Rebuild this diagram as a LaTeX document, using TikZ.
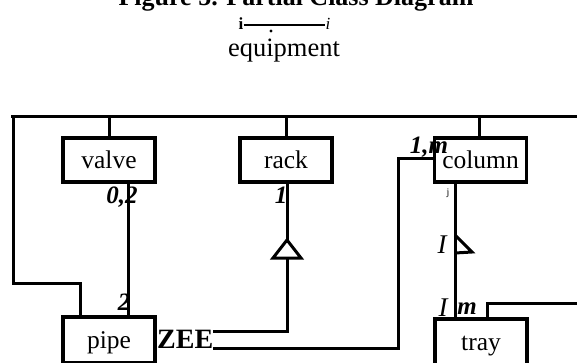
\documentclass[tikz,border=0pt]{standalone}
\usepackage{fontspec}
\setmainfont{Liberation Serif}
\usetikzlibrary{calc}
\begin{document}
\begin{tikzpicture}[x=1pt,y=-1pt,
  conn/.style={line width=3pt},
  cls/.style={draw,line width=3.2pt,minimum width=92pt,minimum height=44pt,inner sep=0pt,
    text height=18pt,text depth=2pt,font=\fontsize{25.5}{30}\selectfont},
  mult/.style={inner sep=0pt,font=\fontsize{25}{30}\selectfont\bfseries\itshape},
  lbl/.style={inner sep=0pt,font=\fontsize{25}{30}\selectfont}]
\useasboundingbox (0,0) rectangle (577,362);
\clip (0,0) rectangle (577,362);
% title and header
\node[anchor=base,inner sep=0pt,font=\fontsize{26}{30}\selectfont\bfseries] (title) at (296,5) {Figure 5. Partial Class Diagram};
\node[anchor=base,inner sep=0pt,font=\fontsize{17}{18}\selectfont\bfseries] (hi1) at (241,29) {i};
\node[anchor=base,inner sep=0pt,font=\fontsize{17}{18}\selectfont\itshape] (hi2) at (328,29) {i};
\draw[line width=2pt] (hi1.east |- 0,25) -- (hi2.west |- 0,25);
\fill (271,31) circle (1.6pt);
\node[lbl,font=\fontsize{26.5}{30}\selectfont] (equip) at (284,51) {equipment};
% classes
\node[cls] (valve) at (109,160) {valve};
\node[cls] (rack) at (286,160) {rack};
\node[cls] (column) at (480.5,160) {column};
\node[cls,minimum height=46pt] (pipe) at (109,340) {pipe};
\node[cls,minimum height=46pt] (tray) at (481,342) {tray};
% bus
\coordinate (busL) at (11,116);
\coordinate (busR) at (577,116);
\draw[conn] (busL) -- (busR);
\draw[conn] (valve.north) -- (valve.north |- busL);
\draw[conn] (rack.north) -- (rack.north |- busL);
\draw[conn] ([xshift=-1.5pt]column.north) -- ([xshift=-1.5pt]column.north |- busL);
\coordinate (lbend) at (13,283);
\draw[conn] ([xshift=-29pt]pipe.north) |- (lbend) -- (lbend |- busL);
% valve - pipe
\draw[conn] ([xshift=19pt]valve.south) -- ([xshift=19pt]pipe.north);
\node[mult] (m02) at (122,197) {0,2};
\node[mult] (m2) at (124,302) {2};
% ZEE and links
\node[inner sep=0pt,anchor=west,font=\fontsize{28}{30}\selectfont\bfseries] (zee) at (157,339) {ZEE};
\coordinate (za) at (213,331);
\coordinate (zb) at (213,348);
\draw[conn] (za) -| ([xshift=1pt]rack.south);
\draw[conn,fill=white] (287,240) -- (301,258) -- (273,258) -- cycle;
\node[mult] (m1) at (281,195) {1};
\coordinate (cbend) at (398,158);
\draw[conn] (zb) -| (cbend) -- (column.west |- cbend);
\node[mult] (m1m) at (429,147) {1,m};
% column - tray
\draw[conn] ([xshift=-25.5pt]column.south) -- ([xshift=-26pt]tray.north);
\draw[conn] (455,235) -- (472,252) -- (455,253);
\node[inner sep=0pt,font=\fontsize{10}{12}\selectfont] (mj) at (448,193) {j};
\node[lbl,font=\fontsize{27}{30}\selectfont\itshape] (mI) at (442,245) {I};
\node[lbl,font=\fontsize{27}{30}\selectfont\itshape] (mI2) at (443,308) {I};
\node[mult] (mm) at (467,309) {m};
\coordinate (trayR) at (577,303);
\draw[conn] ([xshift=6pt]tray.north) |- (trayR);
\end{tikzpicture}
\end{document}
